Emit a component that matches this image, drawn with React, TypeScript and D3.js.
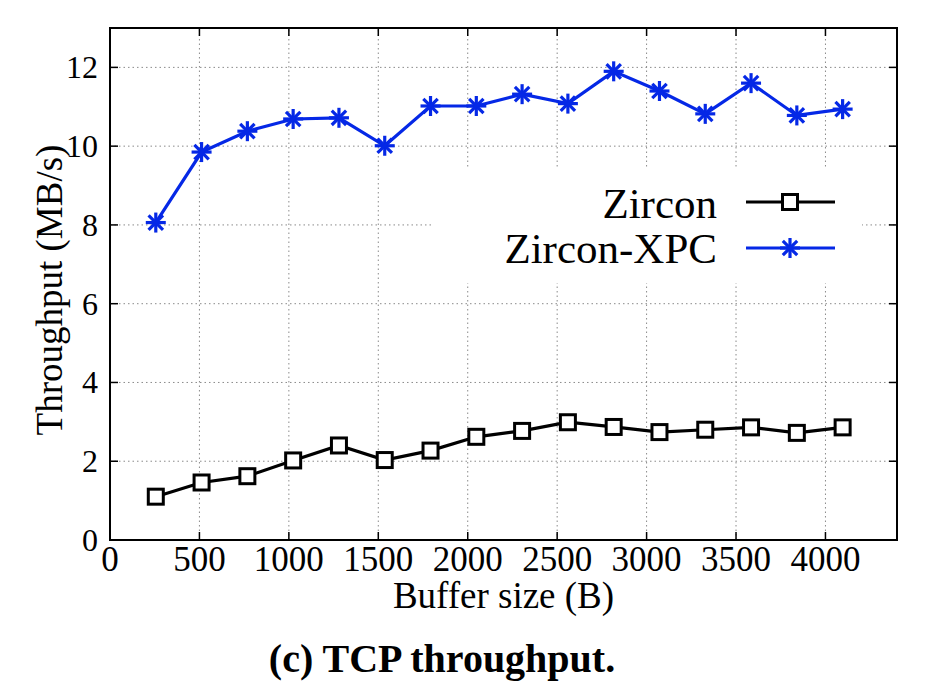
import React from "react";
import * as d3 from "d3";

const bufferSizes = [256, 512, 768, 1024, 1280, 1536, 1792, 2048, 2304, 2560, 2816, 3072, 3328, 3584, 3840, 4096];
const zircon = [1.1, 1.46, 1.62, 2.02, 2.4, 2.03, 2.27, 2.62, 2.77, 2.99, 2.87, 2.74, 2.8, 2.86, 2.72, 2.86];
const zirconXPC = [8.06, 9.85, 10.38, 10.69, 10.72, 10.01, 11.02, 11.02, 11.32, 11.08, 11.9, 11.4, 10.82, 11.6, 10.78, 10.94];
const xTicks = [0, 500, 1000, 1500, 2000, 2500, 3000, 3500, 4000];
const yTicks = [0, 2, 4, 6, 8, 10, 12];
const seriesNames = ["Zircon", "Zircon-XPC"];

const W = 940, H = 700;
const L = 110, R = 897, T = 28, B = 540;
const BLUE = "#0528e6";
const FONT = "'Liberation Serif', 'Times New Roman', serif";

function Square({ x, y }: { x: number; y: number }) {
  const s = 7.5;
  return <rect x={x - s} y={y - s} width={2 * s} height={2 * s} fill="#fff" stroke="#000" strokeWidth={3} />;
}

function Star({ x, y }: { x: number; y: number }) {
  const s = 10;
  const d = 7.2;
  return (
    <g stroke={BLUE} strokeWidth={3.2}>
      <line x1={x - s} y1={y} x2={x + s} y2={y} />
      <line x1={x} y1={y - s} x2={x} y2={y + s} />
      <line x1={x - d} y1={y - d} x2={x + d} y2={y + d} />
      <line x1={x - d} y1={y + d} x2={x + d} y2={y - d} />
    </g>
  );
}

export default function App() {
  const x = d3.scaleLinear().domain([0, 4400]).range([L, R]);
  const y = d3.scaleLinear().domain([0, 13]).range([B, T]);
  const line = d3.line<number>().x((_, i) => x(bufferSizes[i])).y((d) => y(d));

  const tickLen = 8;
  return (
    <svg width={W} height={H} style={{ position: "absolute", left: 0, top: 0, background: "#fff" }} fontFamily={FONT}>
      <rect x={0} y={0} width={W} height={H} fill="#fff" />
      {/* grid */}
      <g stroke="#8a8a8a" strokeWidth={1} strokeDasharray="1.5,3">
        {xTicks.filter((t) => t > 0).map((t) => (
          <line key={"gx" + t} x1={x(t)} x2={x(t)} y1={B} y2={T} />
        ))}
        {yTicks.filter((t) => t > 0).map((t) => (
          <line key={"gy" + t} x1={L} x2={R} y1={y(t)} y2={y(t)} />
        ))}
      </g>
      {/* ticks (inward, mirrored) */}
      <g stroke="#000" strokeWidth={1.5}>
        {xTicks.map((t) => (
          <g key={"tx" + t}>
            <line x1={x(t)} x2={x(t)} y1={B} y2={B - tickLen} />
            <line x1={x(t)} x2={x(t)} y1={T} y2={T + tickLen} />
          </g>
        ))}
        {yTicks.map((t) => (
          <g key={"ty" + t}>
            <line x1={L} x2={L + tickLen} y1={y(t)} y2={y(t)} />
            <line x1={R} x2={R - tickLen} y1={y(t)} y2={y(t)} />
          </g>
        ))}
      </g>
      {/* legend box background */}
      <rect x={432} y={168} width={430} height={115} fill="#fff" />
      {/* frame */}
      <rect x={L} y={T} width={R - L} height={B - T} fill="none" stroke="#000" strokeWidth={2} />
      {/* tick labels */}
      <g fill="#000">
        {xTicks.map((t) => (
          <text key={"lx" + t} x={x(t)} y={571} fontSize={35} textAnchor="middle">{t}</text>
        ))}
        {yTicks.map((t) => (
          <text key={"ly" + t} x={98} y={y(t) + 11} fontSize={32} textAnchor="end">{t}</text>
        ))}
      </g>
      {/* axis labels */}
      <text x={(L + R) / 2} y={608} fontSize={37} textAnchor="middle">Buffer size (B)</text>
      <text transform={`translate(62, ${(T + B) / 2 + 6}) rotate(-90)`} fontSize={37} textAnchor="middle">Throughput (MB/s)</text>
      {/* series */}
      <path d={line(zircon) ?? ""} fill="none" stroke="#000" strokeWidth={3.2} />
      <path d={line(zirconXPC) ?? ""} fill="none" stroke={BLUE} strokeWidth={3.2} />
      {zircon.map((v, i) => <Square key={"s" + i} x={x(bufferSizes[i])} y={y(v)} />)}
      {zirconXPC.map((v, i) => <Star key={"a" + i} x={x(bufferSizes[i])} y={y(v)} />)}
      {/* legend */}
      <g fontSize={43}>
        <text x={717} y={218} textAnchor="end">{seriesNames[0]}</text>
        <text x={717} y={263} textAnchor="end">{seriesNames[1]}</text>
      </g>
      <line x1={746} x2={835} y1={202} y2={202} stroke="#000" strokeWidth={3} />
      <Square x={790} y={202} />
      <line x1={746} x2={835} y1={248} y2={248} stroke={BLUE} strokeWidth={3} />
      <Star x={790} y={248} />
      {/* caption */}
      <text x={442} y={672} fontSize={40} fontWeight="bold" textAnchor="middle">(c) TCP throughput.</text>
    </svg>
  );
}
